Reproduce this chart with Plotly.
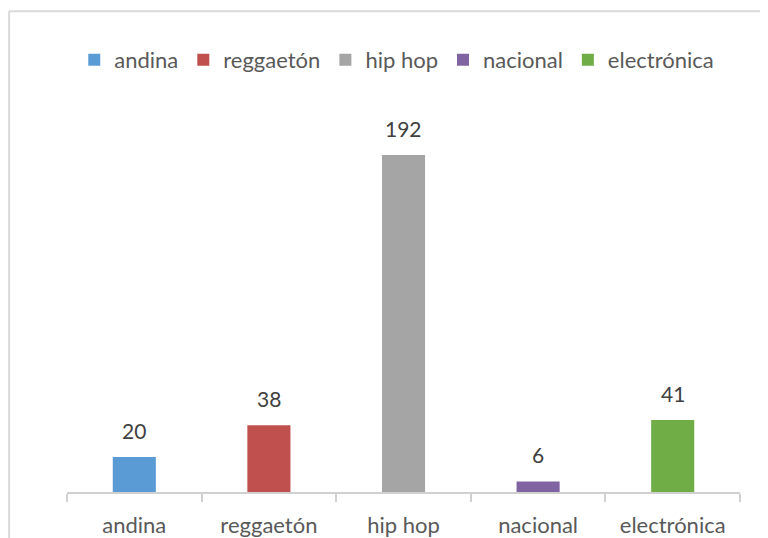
import plotly.graph_objects as go

categories = ["andina", "reggaetón", "hip hop", "nacional", "electrónica"]
values = [20, 38, 192, 6, 41]
colors = ["#5B9BD5", "#C0504D", "#A5A5A5", "#8064A2", "#70AD47"]

FONT = "Lato, Open Sans, sans-serif"

fig = go.Figure()
for cat, val, col in zip(categories, values, colors):
    fig.add_trace(go.Bar(
        x=[cat], y=[val], name=cat,
        marker=dict(color=col, line=dict(width=0)),
        width=0.32,
    ))
    # data label above each bar
    fig.add_annotation(x=cat, y=val, text=str(val), showarrow=False,
                       yanchor="bottom", yshift=12,
                       font=dict(size=21, color="#404040", family=FONT))

# light frame of the chart area: only top and left edges are visible
frame = dict(color="#d9d9d9", width=2)
fig.add_shape(type="line", xref="paper", yref="paper",
              x0=-0.086, x1=1.2, y0=1.37, y1=1.37, line=frame, layer="below")
fig.add_shape(type="line", xref="paper", yref="paper",
              x0=-0.086, x1=-0.086, y0=-0.3, y1=1.37, line=frame, layer="below")

# the page body adds an 8px offset; keep the figure inside the window
fig.update_layout(
    width=760, height=530,
    margin=dict(l=59, r=28, t=133, b=46),
    paper_bgcolor="white", plot_bgcolor="white",
    barmode="overlay",
    showlegend=True,
    legend=dict(orientation="h", x=0.49, xanchor="center", y=1.231, yanchor="middle",
                font=dict(size=22, color="#595959", family=FONT),
                itemwidth=30, traceorder="normal"),
    font=dict(family=FONT, color="#595959"),
)
fig.update_xaxes(
    categoryorder="array", categoryarray=categories,
    showline=True, linecolor="#d0d0d0", linewidth=2,
    ticks="outside", tickson="boundaries", ticklen=8, tickcolor="#d0d0d0", tickwidth=2,
    ticklabelstandoff=13, automargin=False,
    tickfont=dict(size=22, color="#595959", family=FONT),
    showgrid=False, zeroline=False,
)
fig.update_yaxes(range=[0, 200], visible=False, showgrid=False, zeroline=False)

fig.write_html("out.html")
